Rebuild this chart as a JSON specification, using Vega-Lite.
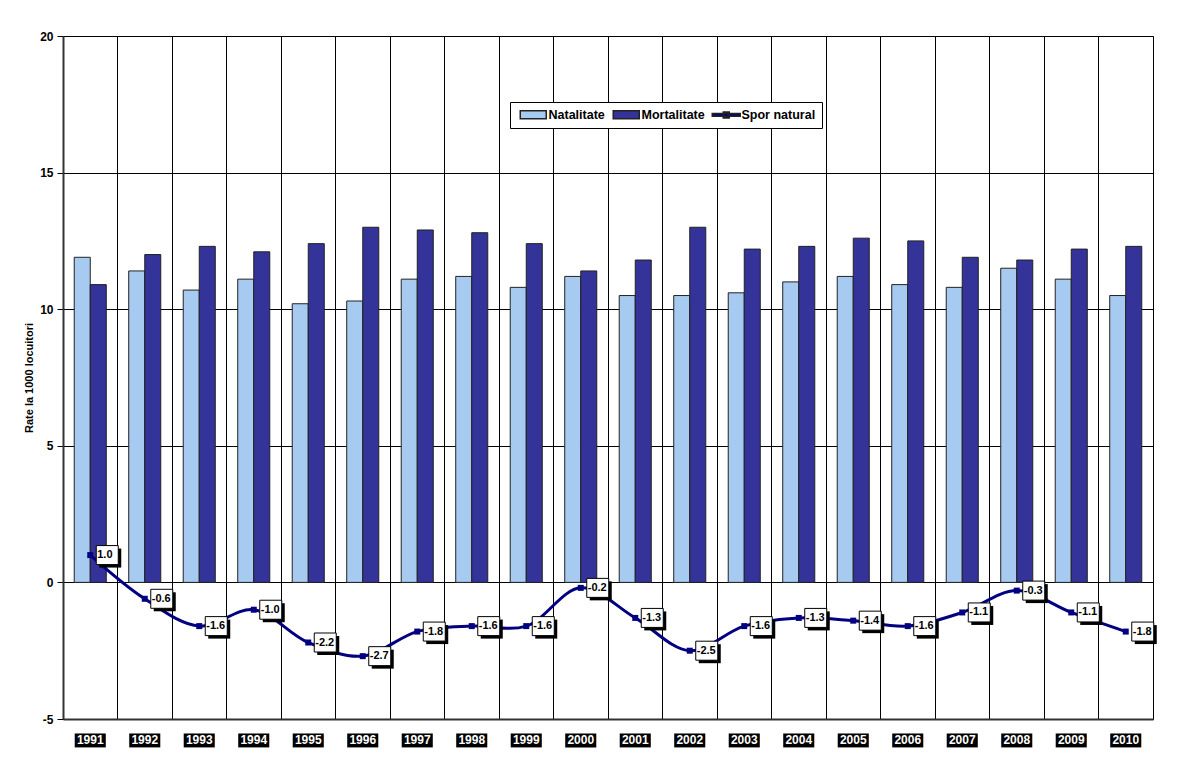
{
  "$schema": "https://vega.github.io/schema/vega-lite/v6.json",
  "width": 1090,
  "height": 683,
  "autosize": "none",
  "padding": {"left": 63, "top": 36, "right": 29, "bottom": 38},
  "background": "white",
  "config": {
    "font": "Liberation Sans",
    "view": {"stroke": "#000", "strokeWidth": 1},
    "locale": {"number": {"decimal": ".", "thousands": ",", "grouping": [3], "currency": ["$", ""], "minus": "-"}}
  },
  "data": {
    "values": [
      {"year": "1991", "Natalitate": 11.9, "Mortalitate": 10.9, "Spor": 1.0},
      {"year": "1992", "Natalitate": 11.4, "Mortalitate": 12.0, "Spor": -0.6},
      {"year": "1993", "Natalitate": 10.7, "Mortalitate": 12.3, "Spor": -1.6},
      {"year": "1994", "Natalitate": 11.1, "Mortalitate": 12.1, "Spor": -1.0},
      {"year": "1995", "Natalitate": 10.2, "Mortalitate": 12.4, "Spor": -2.2},
      {"year": "1996", "Natalitate": 10.3, "Mortalitate": 13.0, "Spor": -2.7},
      {"year": "1997", "Natalitate": 11.1, "Mortalitate": 12.9, "Spor": -1.8},
      {"year": "1998", "Natalitate": 11.2, "Mortalitate": 12.8, "Spor": -1.6},
      {"year": "1999", "Natalitate": 10.8, "Mortalitate": 12.4, "Spor": -1.6},
      {"year": "2000", "Natalitate": 11.2, "Mortalitate": 11.4, "Spor": -0.2},
      {"year": "2001", "Natalitate": 10.5, "Mortalitate": 11.8, "Spor": -1.3},
      {"year": "2002", "Natalitate": 10.5, "Mortalitate": 13.0, "Spor": -2.5},
      {"year": "2003", "Natalitate": 10.6, "Mortalitate": 12.2, "Spor": -1.6},
      {"year": "2004", "Natalitate": 11.0, "Mortalitate": 12.3, "Spor": -1.3},
      {"year": "2005", "Natalitate": 11.2, "Mortalitate": 12.6, "Spor": -1.4},
      {"year": "2006", "Natalitate": 10.9, "Mortalitate": 12.5, "Spor": -1.6},
      {"year": "2007", "Natalitate": 10.8, "Mortalitate": 11.9, "Spor": -1.1},
      {"year": "2008", "Natalitate": 11.5, "Mortalitate": 11.8, "Spor": -0.3},
      {"year": "2009", "Natalitate": 11.1, "Mortalitate": 12.2, "Spor": -1.1},
      {"year": "2010", "Natalitate": 10.5, "Mortalitate": 12.3, "Spor": -1.8}
    ]
  },
  "encoding": {
    "x": {
      "field": "year",
      "type": "ordinal",
      "scale": {"paddingInner": 0, "paddingOuter": 0},
      "axis": {
        "title": null,
        "labels": false,
        "ticks": false,
        "grid": true,
        "bandPosition": 0,
        "gridColor": "#000",
        "gridWidth": 1,
        "gridOpacity": 1,
        "domain": true,
        "domainColor": "#333",
        "domainWidth": 2
      }
    }
  },
  "layer": [
    {
      "transform": [{"fold": ["Natalitate", "Mortalitate"], "as": ["series", "value"]}],
      "mark": {"type": "bar", "stroke": "#222", "strokeWidth": 1},
      "encoding": {
        "xOffset": {
          "field": "series",
          "type": "nominal",
          "scale": {"domain": ["Natalitate", "Mortalitate"], "paddingOuter": 0.7, "paddingInner": 0}
        },
        "y": {
          "field": "value",
          "type": "quantitative",
          "scale": {"domain": [-5, 20], "nice": false, "zero": false},
          "axis": {
            "title": "Rate la 1000 locuitori",
            "titleFontSize": 11,
            "titleFontWeight": "bold",
            "titleColor": "#000",
            "titlePadding": 5,
            "values": [-5, 0, 5, 10, 15, 20],
            "labelFontSize": 12,
            "labelFontWeight": "bold",
            "labelColor": "#000",
            "labelPadding": 4,
            "tickSize": 6,
            "tickColor": "#000",
            "grid": true,
            "gridColor": "#000",
            "gridWidth": 1,
            "gridOpacity": 1,
            "domainColor": "#333",
            "domainWidth": 2
          }
        },
        "color": {
          "field": "series",
          "type": "nominal",
          "scale": {
            "domain": ["Natalitate", "Mortalitate", "Spor natural"],
            "range": ["#A6CAF0", "#333399", "#000080"]
          },
          "legend": {
            "title": null,
            "orient": "none",
            "legendX": 447,
            "legendY": 66,
            "direction": "horizontal",
            "strokeColor": "#000",
            "fillColor": "#fff",
            "padding": 6,
            "symbolSize": 100,
            "symbolOpacity": 1,
            "symbolOffset": 11,
            "labelOffset": 9,
            "columnPadding": 4,
            "labelFontSize": 12.5,
            "labelFontWeight": "bold",
            "labelColor": "#000"
          }
        }
      }
    },
    {
      "mark": {"type": "point", "opacity": 0, "filled": true},
      "encoding": {
        "y": {"field": "Spor", "type": "quantitative"},
        "shape": {
          "datum": "Spor natural",
          "type": "nominal",
          "scale": {
            "domain": ["Natalitate", "Mortalitate", "Spor natural"],
            "range": ["M-2.6,-0.8H2.6V0.8H-2.6Z", "M-2.6,-0.8H2.6V0.8H-2.6Z", "M-2.8,-0.28H2.8V0.28H-2.8Z M-0.6,-0.6H0.6V0.6H-0.6Z"]
          },
          "legend": {
            "title": null,
            "orient": "none",
            "legendX": 447,
            "legendY": 66,
            "direction": "horizontal",
            "strokeColor": "#000",
            "fillColor": "#fff",
            "padding": 6,
            "symbolSize": 100,
            "symbolOpacity": 1,
            "symbolOffset": 11,
            "labelOffset": 9,
            "columnPadding": 4,
            "labelFontSize": 12.5,
            "labelFontWeight": "bold",
            "labelColor": "#000"
          }
        }
      }
    },
    {
      "mark": {"type": "rule", "color": "#333", "strokeWidth": 2},
      "encoding": {"y": {"datum": 0, "type": "quantitative"}}
    },
    {
      "mark": {"type": "line", "strokeWidth": 3, "interpolate": "catmull-rom", "color": "#000080"},
      "encoding": {
        "y": {"field": "Spor", "type": "quantitative"}
      }
    },
    {
      "mark": {"type": "point", "shape": "square", "filled": true, "size": 36, "color": "#000080", "opacity": 1},
      "encoding": {"y": {"field": "Spor", "type": "quantitative"}}
    },
    {
      "mark": {"type": "point", "shape": "M1.8,-1.3H6.2V2.5H1.8Z", "size": 100, "filled": true, "fill": "#000", "strokeWidth": 0, "opacity": 1},
      "encoding": {"y": {"field": "Spor", "type": "quantitative"}}
    },
    {
      "mark": {"type": "point", "shape": "M1.2,-1.9H5.6V1.9H1.2Z", "size": 100, "filled": true, "fill": "#fff", "stroke": "#000", "strokeWidth": 1, "opacity": 1},
      "encoding": {"y": {"field": "Spor", "type": "quantitative"}}
    },
    {
      "mark": {"type": "text", "align": "left", "baseline": "middle", "dx": 7, "fontSize": 11, "fontWeight": "bold", "color": "#000"},
      "encoding": {
        "y": {"field": "Spor", "type": "quantitative"},
        "text": {"field": "Spor", "type": "quantitative", "format": ".1f"}
      }
    },
    {
      "mark": {"type": "bar", "width": {"band": 0.57}, "color": "#000"},
      "encoding": {
        "y": {"datum": -5.53, "type": "quantitative"},
        "y2": {"datum": -6.04}
      }
    },
    {
      "mark": {"type": "text", "baseline": "middle", "fontSize": 12, "fontWeight": "bold", "color": "#fff"},
      "encoding": {
        "y": {"datum": -5.78, "type": "quantitative"},
        "text": {"field": "year", "type": "nominal"}
      }
    }
  ]
}
